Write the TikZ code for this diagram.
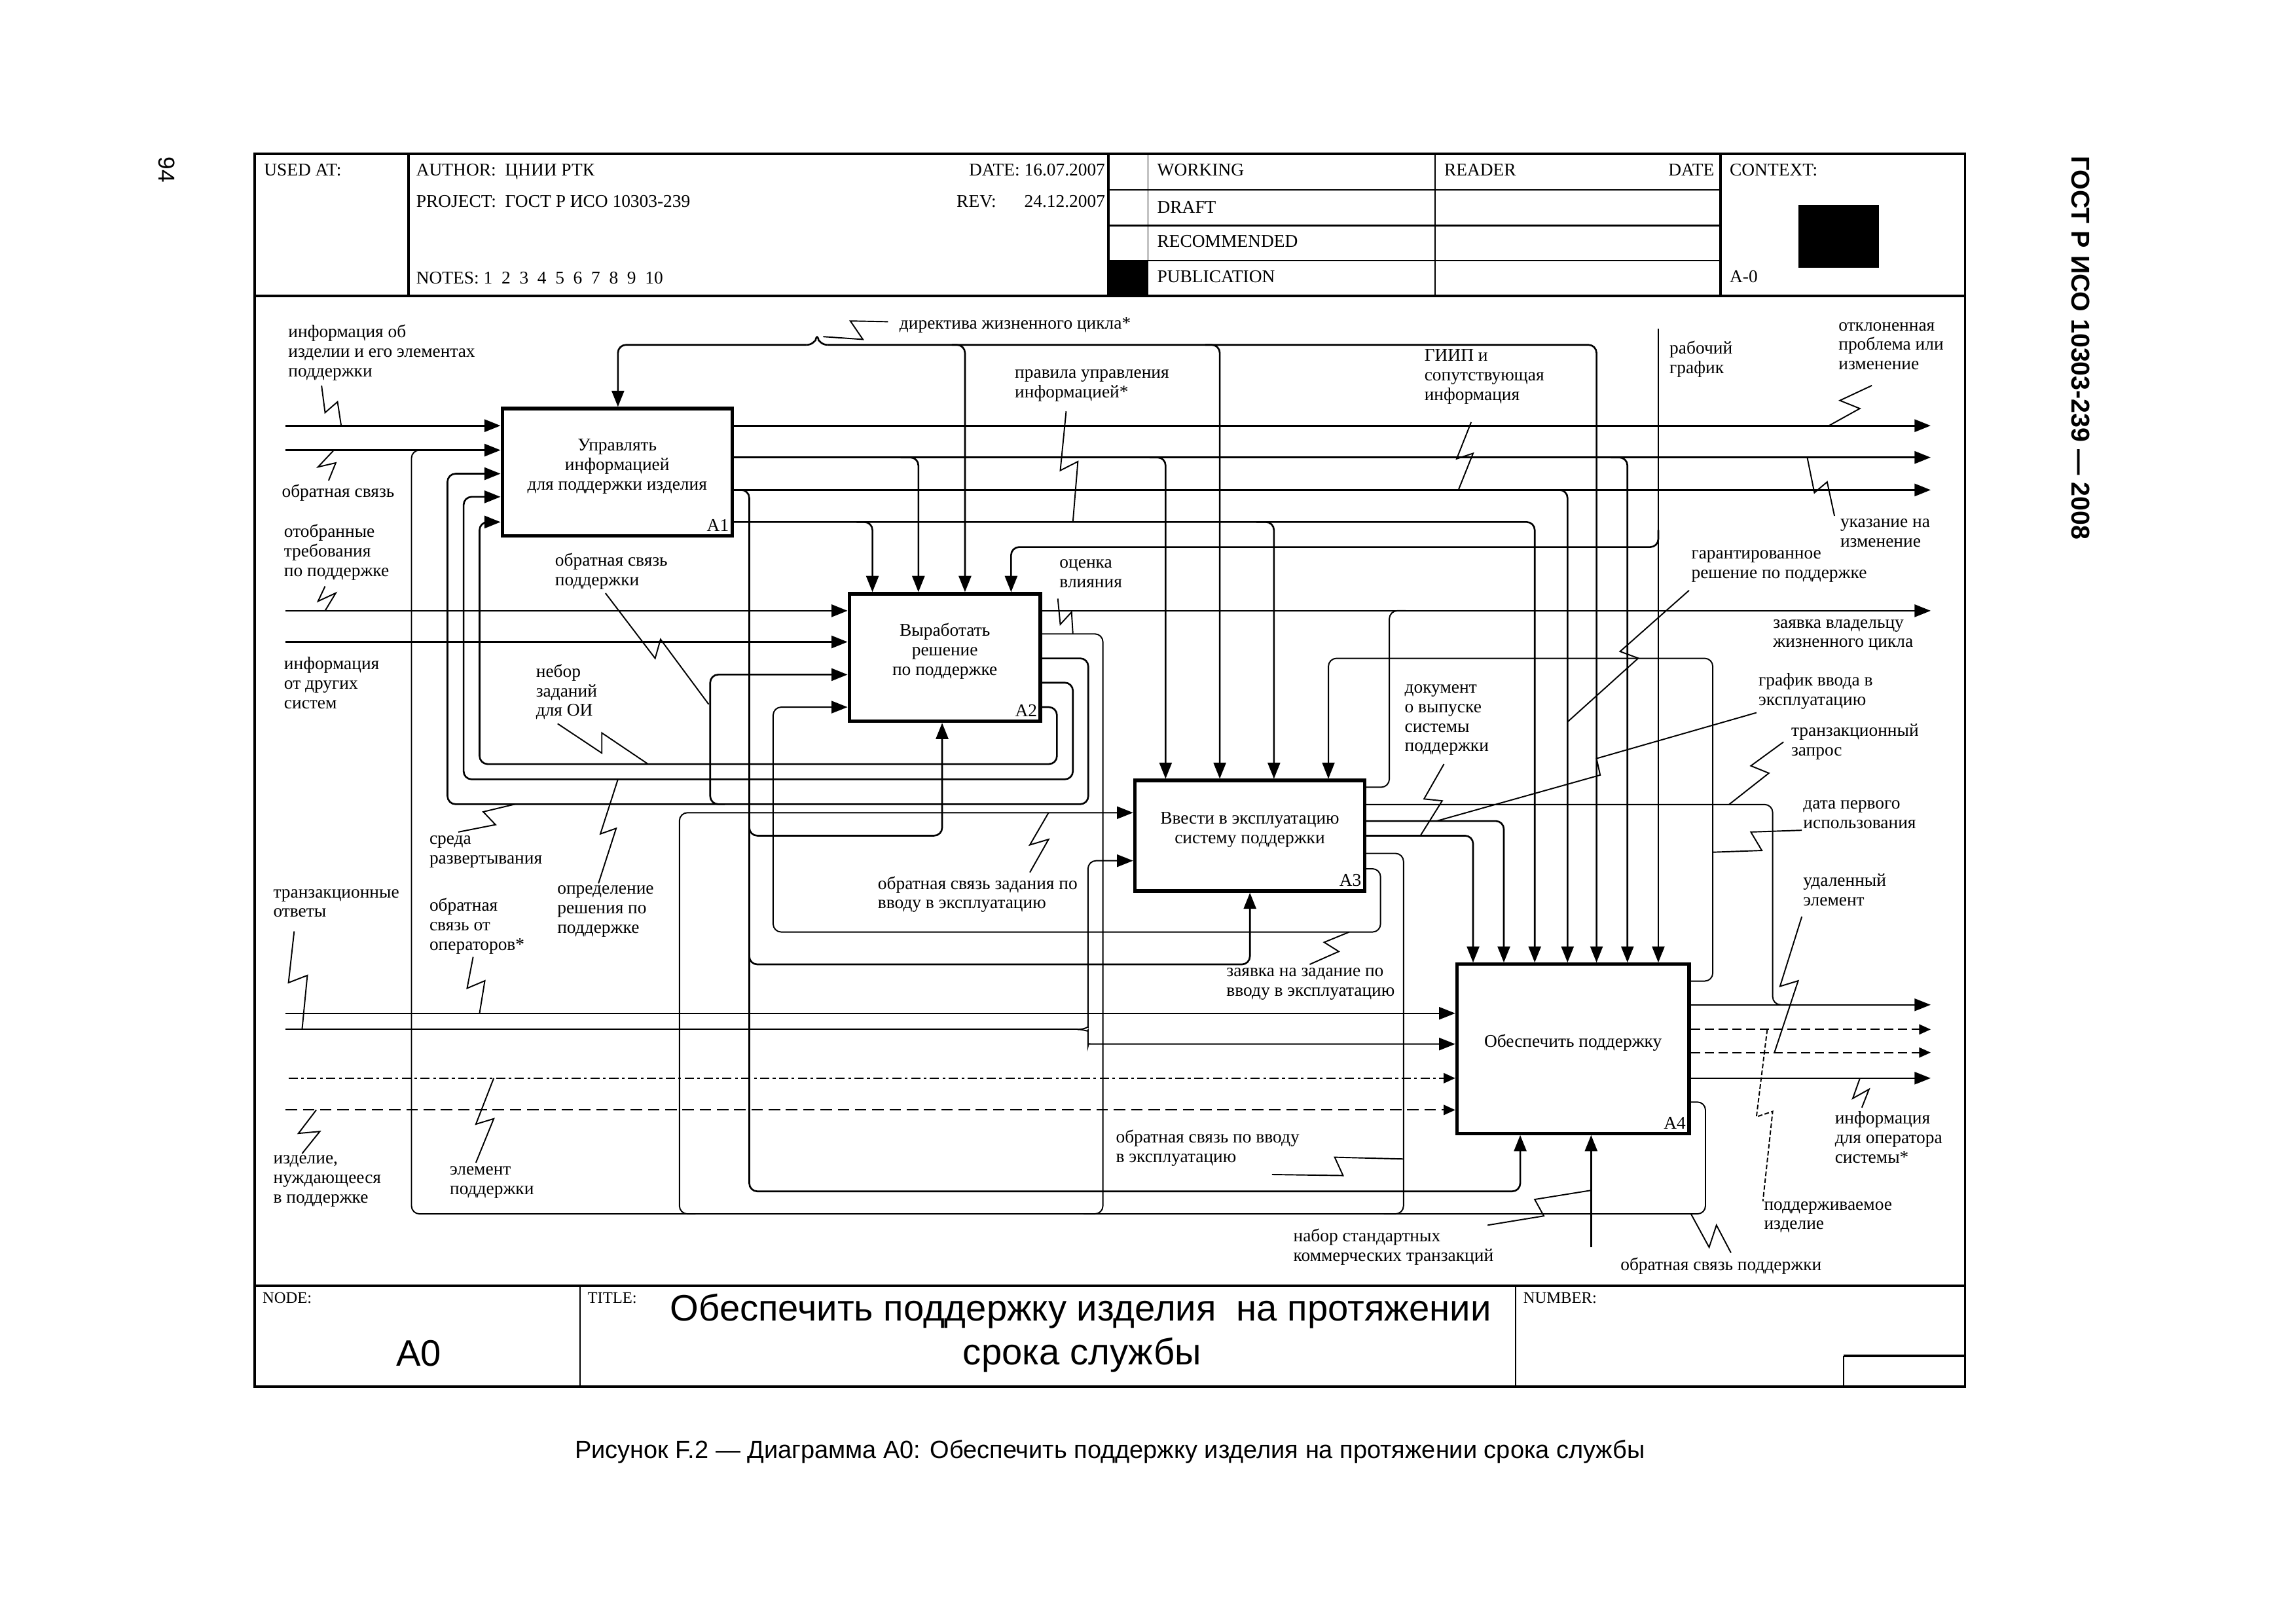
\documentclass[tikz,border=0pt]{standalone}
\usepackage{fontspec}
\setmainfont{Liberation Serif}
\newfontfamily\arialf{Liberation Sans}
\usetikzlibrary{arrows.meta,fit}
\newcommand\lblfont{\fontsize{7.8}{8.5}\selectfont}
\begin{document}
\begin{tikzpicture}[x=0.022366cm,y=-0.022366cm,
  ln/.style={line width=0.75pt,rounded corners=3.5pt},
  lnt/.style={line width=0.55pt,rounded corners=3.5pt},
  ar/.style={-{Triangle[length=7pt,width=5.4pt]}},
  dar/.style={-{Triangle[length=5pt,width=4.4pt]}},
  zz/.style={line width=0.55pt,line join=miter},
  box/.style={draw,line width=1.5pt,inner sep=0pt,align=center,font=\lblfont},
  lbl/.style={anchor=north west,inner sep=0pt,align=left,font=\lblfont,execute at begin node={\strut}},
  hdr/.style={anchor=base west,inner sep=0pt,font=\lblfont},
  hdre/.style={anchor=base east,inner sep=0pt,font=\lblfont},
  frm/.style={line width=1pt},
  frt/.style={line width=0.5pt},
  dd1/.style={dash pattern=on 4pt off 1.5pt on 1.2pt off 1.5pt},
  dd2/.style={dash pattern=on 5pt off 2.5pt},
  dd3/.style={dash pattern=on 4pt off 2pt},
]
\useasboundingbox (0,0) rectangle (1568,1108);
% ---------- frame ----------
\draw[frm] (174,105) rectangle (1342,947);
\draw[frm] (174,202) -- (1342,202);
\draw[frm] (279,105) -- (279,202);
\draw[frm] (757,105) -- (757,202);
\draw[frt] (784,105) -- (784,202);
\draw[frt] (980,105) -- (980,202);
\draw[frm] (1175,105) -- (1175,202);
\draw[frt] (757,129.5) -- (1175,129.5);
\draw[frm] (757,154) -- (1175,154);
\draw[frt] (757,178) -- (1175,178);
\fill (757,178) rectangle (784,202);
\fill (1228,140) rectangle (1283,183);
\draw[frm] (174,878) -- (1342,878);
\draw[frt] (396,878) -- (396,947);
\draw[frt] (1035,878) -- (1035,947);
\draw[frm] (1259,926) -- (1342,926);
\draw[frt] (1259,926) -- (1259,947);
% header texts
\node[hdr] (h1) at (180,120) {USED AT:};
\node[hdr] (h2) at (284,120) {AUTHOR:\ \ ЦНИИ РТК};
\node[hdre] (h3) at (755,120) {DATE:\ 16.07.2007};
\node[hdr] (h4) at (284,141.5) {PROJECT:\ \ ГОСТ Р ИСО 10303-239};
\node[hdr] (h5) at (653,141.5) {REV:};
\node[hdre] (h6) at (755,141.5) {24.12.2007};
\node[hdr] (h7) at (284,194) {NOTES:\ 1\ \ 2\ \ 3\ \ 4\ \ 5\ \ 6\ \ 7\ \ 8\ \ 9\ \ 10};
\node[hdr] (h8) at (790,120) {WORKING};
\node[hdr] (h9) at (790,145.5) {DRAFT};
\node[hdr] (h10) at (790,168.6) {RECOMMENDED};
\node[hdr] (h11) at (790,193) {PUBLICATION};
\node[hdr] (h12) at (986,120) {READER};
\node[hdre] (h13) at (1171,120) {DATE};
\node[hdr] (h14) at (1181,120) {CONTEXT:};
\node[hdr] (h15) at (1181,193) {A-0};
% footer texts
\node[hdr,font=\fontsize{7}{8}\selectfont] (f1) at (179,890) {NODE:};
\node[hdr,font=\fontsize{7}{8}\selectfont] (f2) at (401,890) {TITLE:};
\node[hdr,font=\fontsize{7}{8}\selectfont] (f3) at (1040,890) {NUMBER:};
\node[anchor=base,inner sep=0pt,font=\arialf\fontsize{16}{19}\selectfont] (f4) at (286,933) {A0};
\node[anchor=base,inner sep=0pt,font=\arialf\fontsize{16}{19}\selectfont] (f5) at (738,902) {Обеспечить поддержку изделия\ \ на протяжении};
\node[anchor=base,inner sep=0pt,font=\arialf\fontsize{16}{19}\selectfont] (f6) at (739,932) {срока службы};
\node[anchor=base,inner sep=0pt,font=\arialf\fontsize{10.8}{13}\selectfont] (cap) at (758,996) {Рисунок F.2 — Диаграмма A0: Обеспечить поддержку изделия на протяжении срока службы};
\node[rotate=-90,inner sep=0pt,font=\arialf\bfseries\fontsize{11.2}{13}\selectfont] (gost) at (1421,237.5) {ГОСТ Р ИСО 10303-239 — 2008};
\node[rotate=-90,inner sep=0pt,font=\arialf\fontsize{10}{12}\selectfont] (pg) at (114,116) {94};
% ---------- boxes ----------
\node[box,fit={(343,279) (500,366)}] (A1) {Управлять\\информацией\\для поддержки изделия};
\node[box,fit={(580,405.5) (710.5,492.5)}] (A2) {Выработать\\решение\\по поддержке};
\node[box,fit={(775,533) (932,608.5)}] (A3) {Ввести в эксплуатацию\\систему поддержки};
\node[box,fit={(995,658.5) (1153.5,774)}] (A4) {Обеспечить поддержку};
\node[anchor=south east,inner sep=0pt,font=\lblfont] (A1n) at ([xshift=-2pt,yshift=2.5pt]A1.south east) {A1};
\node[anchor=south east,inner sep=0pt,font=\lblfont] (A2n) at ([xshift=-2pt,yshift=2.5pt]A2.south east) {A2};
\node[anchor=south east,inner sep=0pt,font=\lblfont] (A3n) at ([xshift=-2pt,yshift=2.5pt]A3.south east) {A3};
\node[anchor=south east,inner sep=0pt,font=\lblfont] (A4n) at ([xshift=-2pt,yshift=2.5pt]A4.south east) {A4};
% ---------- A1 inputs ----------
\draw[ln,ar] (195,290.7) -- (A1.west|-0,290.7);
\draw[ln,ar] (195,307.4) -- (A1.west|-0,307.4);
\draw[ln,ar] (A2.east|-0,482.9) -- (721.8,482.9) -- (721.8,521.8) -- (327.5,521.8) -- (327.5,356.5) -- (A1.west|-0,356.5);
\draw[ln,ar] (A2.east|-0,466.2) -- (732.7,466.2) -- (732.7,532.2) -- (316.6,532.2) -- (316.6,339.3) -- (A1.west|-0,339.3);
\draw[ln,ar] (A2.east|-0,449.6) -- (743.2,449.6) -- (743.2,549.2) -- (305.6,549.2) -- (305.6,323.5) -- (A1.west|-0,323.5);
\draw[ln,ar] (495,549.2) -- (485,549.2) -- (485,460.7) -- (A2.west|-0,460.7);
% directive (tunnelled)
\draw[ln] (551,235.5) .. controls (555,235.5) and (557,232) .. (558,227) .. controls (559,232) and (561,235.5) .. (565,235.5);
\draw[ln,ar] (551,235.5) -| (422,0|-A1.north);
\draw[ln,ar] (565,235.5) -| (1090.3,0|-A4.north);
\draw[ln,ar] (650,235.5) -| (659,0|-A2.north);
\draw[ln,ar] (823,235.5) -| (833,0|-A3.north);
% ---------- A1 outputs ----------
\draw[ln,ar] (A1.east|-0,290.7) -- (1318.5,290.7);
\draw[ln,ar] (A1.east|-0,312.4) -- (1318.5,312.4);
\draw[ln,ar] (615,312.4) -| (627.2,0|-A2.north);
\draw[ln,ar] (785,312.4) -| (796,0|-A3.north);
\draw[ln,ar] (1100,312.4) -| (1111.4,0|-A4.north);
\draw[ln,ar] (A1.east|-0,334.6) -- (1318.5,334.6);
\draw[ln,ar] (1060,334.6) -| (1070.5,0|-A4.north);
\draw[ln,ar] (A1.east|-0,334.6) -- (511.7,334.6) -- (511.7,813.6) -- (1038.2,813.6) -- (1038.2,0|-A4.south);
\draw[ln,ar] (511.7,560) |- (643.4,570.7) -- (643.4,0|-A2.south);
\draw[ln,ar] (511.7,648) |- (853.6,658.6) -- (853.6,0|-A3.south);
\draw[ln,ar] (A1.east|-0,356.5) -| (1048.1,0|-A4.north);
\draw[ln,ar] (585,356.5) -| (595.8,0|-A2.north);
\draw[ln,ar] (858,356.5) -| (870,0|-A3.north);
% working schedule
\draw[ln,ar] (1132.5,224.4) -- (1132.5,0|-A4.north);
\draw[ln,ar] (1132.5,362) |- (690.5,373.6) -- (690.5,0|-A2.north);
% ---------- A2 inputs ----------
\draw[ln,ar] (195,417.1) -- (A2.west|-0,417.1);
\draw[ln,ar] (195,438.4) -- (A2.west|-0,438.4);
\draw[lnt,ar] (A3.east|-0,593.3) -- (942.8,593.3) -- (942.8,636.5) -- (528,636.5) -- (528,482.9) -- (A2.west|-0,482.9);
% ---------- A2 outputs ----------
\draw[ln,ar] (A2.east|-0,417.1) -- (1318.5,417.1);
\draw[lnt] (A2.east|-0,432.9) -- (753.2,432.9) -- (753.2,829) -- (740,829);
% feedback loop bottom
\draw[lnt] (A4.east|-0,752.6) -- (1164.7,752.6) -- (1164.7,829) -- (281,829) -- (281,307.4) -- (300,307.4);
\draw[lnt] (A3.east|-0,582.8) -- (958.5,582.8) -- (958.5,829) -- (945,829);
\draw[lnt,ar] (475,829) -- (464,829) -- (464,555) -- (A3.west|-0,555);
% ---------- A3 outputs ----------
\draw[lnt] (A3.east|-0,537.6) -- (948.8,537.6) -- (948.8,417.1) -- (960,417.1);
\draw[lnt] (A3.east|-0,549.4) -- (1210.6,549.4) -- (1210.6,686.2) -- (1225,686.2);
\draw[ln,ar] (A3.east|-0,560.7) -| (1027,0|-A4.north);
\draw[ln,ar] (A3.east|-0,570.7) -| (1006,0|-A4.north);
% A4 -> A3 control
\draw[lnt,ar] (A4.east|-0,670) -- (1169.7,670) -- (1169.7,449.6) -- (907.2,449.6) -- (907.2,0|-A3.north);
% ---------- lower external inputs ----------
\draw[lnt] (195,703) -- (736,703);
\draw[lnt,ar] (736,703) .. controls (741,703) and (743,701) .. (743,696) -- (743,587.8) -- (A3.west|-0,587.8);
\draw[lnt,ar] (736,703) .. controls (741,703) and (743,705) .. (743,709) .. controls (743,712) and (745,713) .. (750,713) -- (A4.west|-0,713);
\draw[lnt,ar] (195,692) -- (A4.west|-0,692);
\draw[lnt,dd1,dar] (197,736.3) -- (A4.west|-0,736.3);
\draw[lnt,dd2,dar] (195,758) -- (A4.west|-0,758);
% ---------- A4 outputs ----------
\draw[lnt,ar] (A4.east|-0,686.2) -- (1318.5,686.2);
\draw[lnt,dd3,dar] (A4.east|-0,703) -- (1318.5,703);
\draw[lnt,dd3,dar] (A4.east|-0,718.8) -- (1318.5,718.8);
\draw[lnt,ar] (A4.east|-0,736.3) -- (1318.5,736.3);
\draw[ln,ar] (1086.6,851.8) -- (1086.6,0|-A4.south);
% ---------- squiggles ----------
\draw[zz] (219.6,263.3) -- (222,281.8) -- (230.5,274.4) -- (233,290.7);
\draw[zz] (228,307.4) -- (217.2,318.9) -- (229.3,316.1) -- (224.4,328.2);
\draw[zz] (222,400.4) -- (217.2,410.6) -- (229.3,405) -- (222,417.1);
\draw[zz] (413.5,405.1) -- (447.4,449.6) -- (451.1,436.6) -- (484,481);
\draw[zz] (380.8,494.2) -- (411,514.3) -- (411,500.5) -- (442.6,521.8);
\draw[zz] (313,568.2) -- (338.4,563.2) -- (330,554.4) -- (351.7,549.2);
\draw[zz] (408.7,603.3) -- (420.8,565.7) -- (410,569.5) -- (422,532.2);
\draw[zz] (200.9,636) -- (197,671.1) -- (209.9,666.1) -- (206.3,703);
\draw[zz] (323.1,653.5) -- (319,674.9) -- (331.1,669.8) -- (327.5,692);
\draw[zz] (206.3,787.8) -- (218.4,772.7) -- (203.8,774) -- (216,758);
\draw[zz] (325,794) -- (337.2,764) -- (325,767.7) -- (337.2,736.3);
\draw[zz] (606.4,219.7) -- (580.7,219.2) -- (589.3,231.8) -- (562.2,229.9);
\draw[zz] (728.1,280.9) -- (724.1,321.3) -- (736.1,315.2) -- (732.7,356.5);
\draw[zz] (722.4,408.8) -- (724.1,426.4) -- (731.8,418) -- (732.7,432.9);
\draw[zz] (703.3,595.8) -- (716.1,573.2) -- (703.3,577) -- (716.1,555);
\draw[zz] (894.4,658.6) -- (914.3,649.8) -- (904.3,643.5) -- (921.4,636.5);
\draw[zz] (868.7,802.1) -- (917.2,802.8) -- (911.5,790.3) -- (958.5,791.5);
\draw[zz] (1015.9,836.7) -- (1054.3,830.4) -- (1048.1,819.1) -- (1086.6,812.9);
\draw[zz] (1154.8,829) -- (1167.2,851.8) -- (1172.2,836.7) -- (1182.1,855.5);
\draw[zz] (1004.7,288.3) -- (994.8,313.3) -- (1006,309.6) -- (996,334.6);
\draw[zz] (1278.3,263.3) -- (1256.5,273.5) -- (1270.1,279) -- (1249,290.7);
\draw[zz] (1234.2,312.4) -- (1239.1,336.5) -- (1247.8,329.1) -- (1252.8,352.3);
\draw[zz] (1153.5,403.2) -- (1106.4,444.9) -- (1118.8,449.5) -- (1070.5,493);
\draw[zz] (1199.5,486.7) -- (1090.3,518) -- (1092.8,529.3) -- (981,560.7);
\draw[zz] (1218,506.7) -- (1195.7,523) -- (1208,528) -- (1180.8,549.4);
\draw[zz] (986.1,521.8) -- (972.5,545.6) -- (984.9,546.9) -- (970,570.7);
\draw[zz] (1230.5,567) -- (1195.7,568.2) -- (1203.2,580.8) -- (1169.7,582);
\draw[zz] (1230.5,626) -- (1215.6,673.6) -- (1228,669.8) -- (1211.8,718.8);
\draw[zz,dash pattern=on 2pt off 1pt] (1206.9,703) -- (1199.5,762.7) -- (1210.6,759) -- (1203.9,820.4);
\draw[zz] (1270.2,736.3) -- (1265.3,750.1) -- (1276.4,743.9) -- (1271.5,756.4);
% ---------- labels ----------
\node[lbl] (L1) at (196.6,221.6) {информация об\\изделии и его элементах\\поддержки};
\node[lbl] (L2) at (192.2,330) {обратная связь};
\node[lbl] (L3) at (193.7,357.8) {отобранные\\требования\\по поддержке};
\node[lbl] (L4) at (193.7,448.5) {информация\\от других\\систем};
\node[lbl] (L5) at (378.8,377.3) {обратная связь\\поддержки};
\node[lbl] (L6) at (365.8,453.3) {небор\\заданий\\для ОИ};
\node[lbl] (L7) at (293,570.5) {среда\\развертывания};
\node[lbl] (L8) at (186.4,606.9) {транзакционные\\ответы};
\node[lbl] (L9) at (293,613.2) {обратная\\связь от\\операторов*};
\node[lbl] (L10) at (380.3,604.4) {определение\\решения по\\поддержке};
\node[lbl] (L11) at (186.4,788.8) {изделие,\\нуждающееся\\в поддержке};
\node[lbl] (L12) at (306.9,796.3) {элемент\\поддержки};
\node[lbl] (L13) at (614,215.1) {директива жизненного цикла*};
\node[lbl] (L14) at (692.8,252.2) {правила управления\\информацией*};
\node[lbl] (L15) at (723.3,381.9) {оценка\\влияния};
\node[lbl] (L16) at (599.2,598.1) {обратная связь задания по\\вводу в эксплуатацию};
\node[lbl] (L17) at (837.3,660.8) {заявка на задание по\\вводу в эксплуатацию};
\node[lbl] (L18) at (761.8,771.2) {обратная связь по вводу\\в эксплуатацию};
\node[lbl] (L19) at (883,839) {набор стандартных\\коммерческих транзакций};
\node[lbl] (L20) at (972.5,238.3) {ГИИП и\\сопутствующая\\информация};
\node[lbl] (L21) at (1139.9,232.7) {рабочий\\график};
\node[lbl] (L22) at (1255.3,219.7) {отклоненная\\проблема или\\изменение};
\node[lbl] (L23) at (1256.5,354.1) {указание на\\изменение};
\node[lbl] (L24) at (1154.8,375.4) {гарантированное\\решение по поддержке};
\node[lbl] (L25) at (1210.6,422.7) {заявка владельцу\\жизненного цикла};
\node[lbl] (L26) at (1200.7,459.7) {график ввода в\\эксплуатацию};
\node[lbl] (L27) at (1223,494) {транзакционный\\запрос};
\node[lbl] (L28) at (959,467.1) {документ\\о выпуске\\системы\\поддержки};
\node[lbl] (L29) at (1231.2,546.2) {дата первого\\использования};
\node[lbl] (L30) at (1231.2,596.3) {удаленный\\элемент};
\node[lbl] (L31) at (1252.8,758.7) {информация\\для оператора\\системы*};
\node[lbl] (L32) at (1204.4,820.2) {поддерживаемое\\изделие};
\node[lbl] (L33) at (1106.4,857.8) {обратная связь поддержки};
\end{tikzpicture}
\end{document}
